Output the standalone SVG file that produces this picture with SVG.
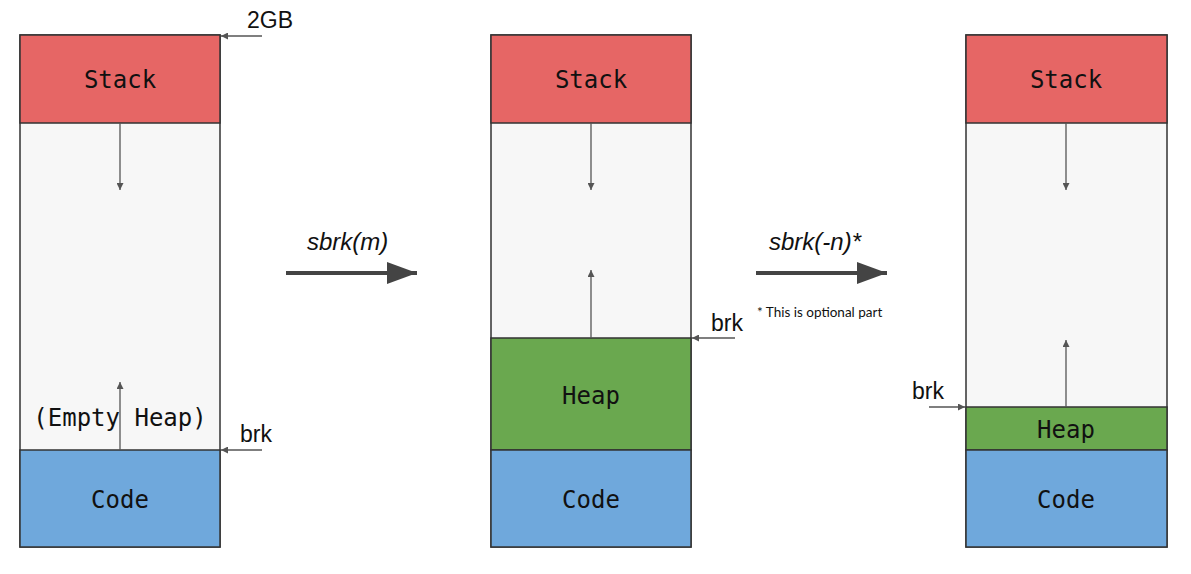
<svg xmlns="http://www.w3.org/2000/svg" width="1191" height="574" viewBox="0 0 1191 574">
<style>
.box{stroke:#333;stroke-width:1.5}
.stack{fill:#e66665}
.empty{fill:#f7f7f7}
.heap{fill:#6aa84f}
.code{fill:#6fa8dc}
.mono{font-family:"DejaVu Sans Mono","Liberation Mono",monospace;font-size:24px;fill:#111;text-anchor:middle}
.lbl{font-family:"Liberation Sans",Arial,sans-serif;font-size:23px;fill:#111}
.it{font-family:"Liberation Sans",Arial,sans-serif;font-size:24px;font-style:italic;fill:#111}
.note{font-family:"Lato","Open Sans",sans-serif;font-size:13.5px;fill:#111}
.thin{stroke:#555;stroke-width:1.3;fill:none}
.thick{stroke:#444;stroke-width:4;fill:none}
</style>
<defs>
<marker id="ah" viewBox="0 0 10 10" refX="10" refY="5" markerWidth="7" markerHeight="7" markerUnits="userSpaceOnUse" orient="auto">
<path d="M0,0 L10,5 L0,10 z" fill="#555"/>
</marker>
<marker id="big" viewBox="0 0 10 10" refX="10" refY="5" markerWidth="30" markerHeight="22" markerUnits="userSpaceOnUse" orient="auto" preserveAspectRatio="none">
<path d="M0,0 L10,5 L0,10 z" fill="#444"/>
</marker>
</defs>
<rect width="1191" height="574" fill="#fff"/>

<g id="mem1">
<rect class="box empty" x="20" y="35" width="200" height="512"/>
<rect class="box stack" x="20" y="35" width="200" height="88"/>
<rect class="box code" x="20" y="450" width="200" height="97"/>
<text class="mono" x="120" y="88">Stack</text>
<text class="mono" x="120" y="426">(Empty Heap)</text>
<text class="mono" x="120" y="508">Code</text>
</g>

<g id="mem2">
<rect class="box empty" x="491" y="35" width="200" height="512"/>
<rect class="box stack" x="491" y="35" width="200" height="88"/>
<rect class="box heap" x="491" y="338" width="200" height="112"/>
<rect class="box code" x="491" y="450" width="200" height="97"/>
<text class="mono" x="591" y="88">Stack</text>
<text class="mono" x="591" y="404">Heap</text>
<text class="mono" x="591" y="508">Code</text>
</g>

<g id="mem3">
<rect class="box empty" x="966" y="35" width="201" height="512"/>
<rect class="box stack" x="966" y="35" width="201" height="88"/>
<rect class="box heap" x="966" y="407" width="201" height="43"/>
<rect class="box code" x="966" y="450" width="201" height="97"/>
<text class="mono" x="1066" y="88">Stack</text>
<text class="mono" x="1066" y="438">Heap</text>
<text class="mono" x="1066" y="508">Code</text>
</g>

<g id="labels">
<text class="lbl" x="247" y="28">2GB</text>
<text class="lbl" x="240" y="442">brk</text>
<text class="lbl" x="711" y="331">brk</text>
<text class="lbl" x="912" y="399">brk</text>
<text class="it" x="307" y="250">sbrk(m)</text>
<text class="it" x="769" y="250">sbrk(-n)*</text>
<text class="note" x="757" y="317">* This is optional part</text>
</g>

<g id="connectors">
<line class="thin" x1="120" y1="123" x2="120" y2="190" marker-end="url(#ah)"/>
<line class="thin" x1="120" y1="450" x2="120" y2="382" marker-end="url(#ah)"/>
<line class="thin" x1="591" y1="123" x2="591" y2="190" marker-end="url(#ah)"/>
<line class="thin" x1="591" y1="338" x2="591" y2="270" marker-end="url(#ah)"/>
<line class="thin" x1="1066" y1="123" x2="1066" y2="190" marker-end="url(#ah)"/>
<line class="thin" x1="1066" y1="407" x2="1066" y2="340" marker-end="url(#ah)"/>
<line class="thin" x1="262" y1="36" x2="221" y2="36" marker-end="url(#ah)"/>
<line class="thin" x1="262" y1="450" x2="221" y2="450" marker-end="url(#ah)"/>
<line class="thin" x1="735" y1="338" x2="692" y2="338" marker-end="url(#ah)"/>
<line class="thin" x1="929" y1="407" x2="965" y2="407" marker-end="url(#ah)"/>
<line class="thick" x1="286" y1="273" x2="417" y2="273" marker-end="url(#big)"/>
<line class="thick" x1="756" y1="273" x2="887" y2="273" marker-end="url(#big)"/>
</g>
</svg>
